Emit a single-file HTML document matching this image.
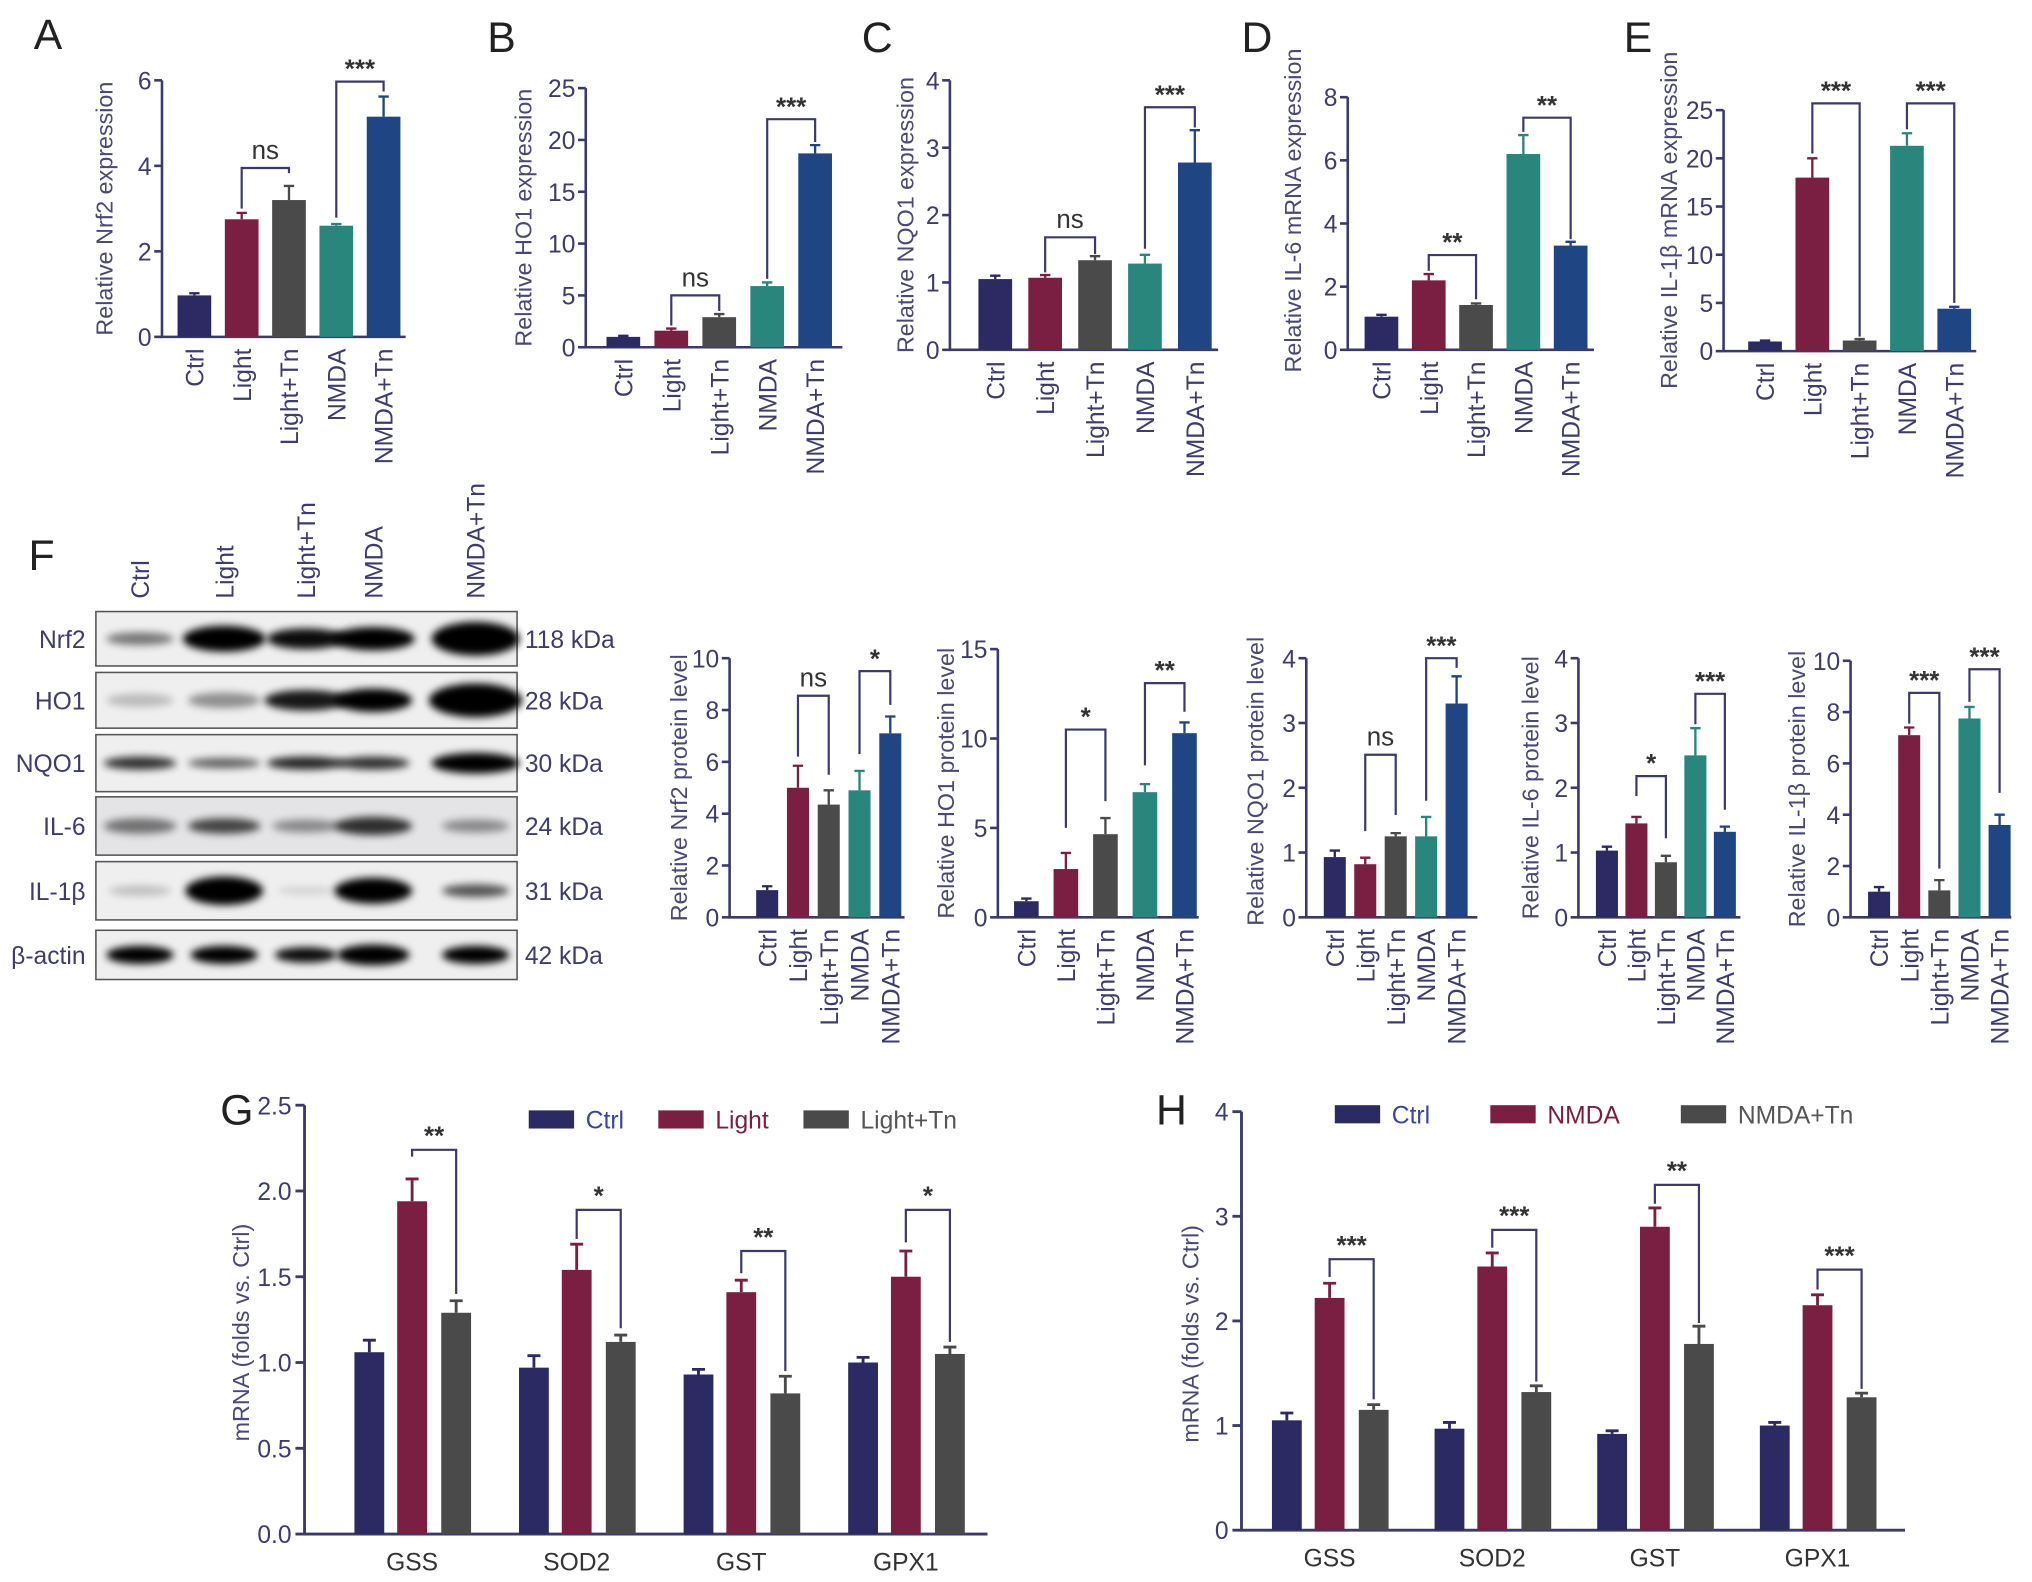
<!DOCTYPE html>
<html><head><meta charset="utf-8"><style>
html,body{margin:0;padding:0;background:#fff}
svg{display:block}
text{font-family:"Liberation Sans","Noto Sans CJK SC",sans-serif}
</style></head>
<body>
<svg id="fig" xmlns="http://www.w3.org/2000/svg" width="2032" height="1582" viewBox="0 0 1568 1221" preserveAspectRatio="none">
<defs><filter id="blur" x="-30%" y="-80%" width="160%" height="260%"><feGaussianBlur stdDeviation="3"/></filter></defs>
</svg>
<script>
// ---- data ----
const groups = ['Ctrl','Light','Light+Tn','NMDA','NMDA+Tn'];
const aVals=[0.97,2.75,3.2,2.6,5.15]; const aErr=[0.05,0.15,0.33,0.04,0.47];
const aBrT=['ns','***']; const aBrY=[3.95,5.97]; const aBrL=[[3.0,3.83],[2.79,5.74]];
const bVals=[1.0,1.6,2.9,5.9,18.7]; const bErr=[0.1,0.2,0.3,0.35,0.8];
const bBrT=['ns','***']; const bBrY=[5.0,22.0]; const bBrL=[[2.1,3.5],[6.6,19.8]];
const cVals=[1.05,1.07,1.33,1.28,2.78]; const cErr=[0.05,0.04,0.06,0.13,0.48];
const cBrT=['ns','***']; const cBrY=[1.67,3.6]; const cBrL=[[1.15,1.42],[1.5,3.3]];
const dVals=[1.05,2.2,1.42,6.2,3.3]; const dErr=[0.06,0.2,0.05,0.6,0.12];
const dBrT=['**','**']; const dBrY=[3.0,7.35]; const dBrL=[[2.5,1.6],[6.9,3.5]];
const eVals=[1.0,18.0,1.1,21.3,4.4]; const eErr=[0.1,2.0,0.15,1.3,0.2];
const eBrT=['***','***']; const eBrY=[25.7,25.7]; const eBrL=[[20.5,1.5],[23.0,5.0]];
const f1Vals=[1.05,5.0,4.35,4.9,7.1]; const f1Err=[0.15,0.85,0.55,0.75,0.65];
const f1BrT=['ns','*']; const f1BrY=[8.55,9.5]; const f1BrL=[[6.2,5.5],[6.3,8.2]];
const f2Vals=[0.9,2.7,4.65,7.0,10.3]; const f2Err=[0.15,0.9,0.9,0.45,0.6];
const f2BrT=['*','**']; const f2BrY=[10.5,13.1]; const f2BrL=[[5.0,6.5],[8.5,11.5]];
const f3Vals=[0.93,0.82,1.25,1.25,3.3]; const f3Err=[0.1,0.1,0.05,0.3,0.42];
const f3BrT=['ns','***']; const f3BrY=[2.51,4.0]; const f3BrL=[[1.33,1.58],[1.8,3.85]];
const f4Vals=[1.03,1.45,0.85,2.5,1.32]; const f4Err=[0.06,0.1,0.1,0.42,0.08];
const f4BrT=['*','***']; const f4BrY=[2.18,3.45]; const f4BrL=[[1.87,1.22],[2.98,1.66]];
const f5Vals=[1.0,7.1,1.05,7.75,3.6]; const f5Err=[0.18,0.3,0.4,0.45,0.4];
const f5BrT=['***','***']; const f5BrY=[8.75,9.67]; const f5BrL=[[7.55,1.9],[8.4,4.85]];
const genes=['GSS','SOD2','GST','GPX1'];
const gCtrl=[1.06,0.97,0.93,1.0]; const gCtrlErr=[0.07,0.07,0.03,0.03];
const gLight=[1.94,1.54,1.41,1.5]; const gLightErr=[0.13,0.15,0.07,0.15];
const gTn=[1.29,1.12,0.82,1.05]; const gTnErr=[0.07,0.04,0.1,0.04];
const gBrT=['**','*','**','*']; const gBrY=[2.24,1.89,1.65,1.89]; const gBrL=[[2.2,1.4],[1.72,1.2],[1.52,0.95],[1.7,1.12]];
const hCtrl=[1.05,0.97,0.92,1.0]; const hCtrlErr=[0.07,0.06,0.03,0.03];
const hNmda=[2.22,2.52,2.9,2.15]; const hNmdaErr=[0.14,0.13,0.18,0.1];
const hTn=[1.15,1.32,1.78,1.27]; const hTnErr=[0.05,0.06,0.17,0.04];
const hBrT=['***','***','**','***']; const hBrY=[2.59,2.87,3.3,2.49]; const hBrL=[[2.42,1.25],[2.7,1.42],[3.12,1.98],[2.3,1.35]];

const colors=['#2c2a62','#7a1e42','#4a4a4a','#28867c','#1f4682'];
const AX='#3b3a6b', TX='#3e3c6e';
const FS=19;
const svg=document.getElementById('fig');
function mk(tag,attrs,parent){const e=document.createElementNS('http://www.w3.org/2000/svg',tag);for(const k in attrs)e.setAttribute(k,attrs[k]);(parent||svg).appendChild(e);return e;}
function txt(s,attrs,parent){const e=mk('text',attrs,parent);e.textContent=s;return e;}

function letter(s,x,y){const t=txt(s,{x:x,y:y,'font-size':33,fill:'#222'});

}

function barChart(o,vals,errs,brT,brY,brL){
  const g=mk('g',{});
  
  
  const y=v=>o.y0-v/o.max*(o.y0-o.yTop);
  const x=i=>o.x0+i*o.sp;
  const ax=mk('path',{d:`M${o.ax} ${o.yTop} V${o.y0} H${o.xEnd}`,stroke:AX,'stroke-width':2,fill:'none'},g);
  
  
  for(let v=0;v<=o.max+1e-9;v+=o.step){
    const tk=mk('line',{x1:o.ax-6,x2:o.ax,y1:y(v),y2:y(v),stroke:AX,'stroke-width':2},g);
    
    
    const tl=txt(o.fmt?v.toFixed(1):String(Math.round(v)),{x:o.ax-8,y:y(v)+7,'text-anchor':'end','font-size':FS,fill:TX},g);
    
    
  }
  const yt=txt(o.title,{transform:`translate(${o.tx},${(o.y0+o.yTop)/2+o.tdy}) rotate(-90)`,'text-anchor':'middle','font-size':18,fill:'#4a4878'},g);
  
  
  vals.forEach((v,i)=>{
    const b=mk('rect',{x:x(i)-o.bw/2,y:y(v),width:o.bw,height:o.y0-y(v),fill:colors[i]},g);
    
    
    const e=mk('path',{d:`M${x(i)} ${y(v)} V${y(v+errs[i])} M${x(i)-4} ${y(v+errs[i])} H${x(i)+4}`,stroke:colors[i],'stroke-width':1.8,fill:'none'},g);
    
    
    const c=txt(groups[i],{transform:`translate(${x(i)+7},${o.y0+9}) rotate(-90)`,'text-anchor':'end','font-size':FS,fill:TX},g);
    
    
  });
  const pairs=[[1,2],[3,4]];
  brT.forEach((t,k)=>{
    const [i,j]=pairs[k];
    const p=mk('path',{d:`M${x(i)} ${y(brL[k][0])} V${y(brY[k])} H${x(j)} V${y(brL[k][1])}`,stroke:AX,'stroke-width':1.7,fill:'none'},g);
    
    
    const s=txt(t,{x:(x(i)+x(j))/2,y:y(brY[k])-(t==='ns'?7:3),'text-anchor':'middle','font-size':20,'font-weight':t==='ns'?'normal':'bold',fill:'#333'},g);
    
    
  });
}

function groupChart(o,series,errs,brT,brY,brL,names){
  const g=mk('g',{});
  
  
  const y=v=>o.y0-v/o.max*(o.y0-o.yTop);
  const gc=i=>o.x0+i*o.sp;
  const off=[-33,0,34];
  const sc=[colors[0],colors[1],colors[2]];
  const ax=mk('path',{d:`M${o.ax} ${o.yTop} V${o.y0} H${o.xEnd}`,stroke:AX,'stroke-width':2.2,fill:'none'},g);
  
  
  for(let v=0;v<=o.max+1e-9;v+=o.step){
    const tk=mk('line',{x1:o.ax-7,x2:o.ax,y1:y(v),y2:y(v),stroke:AX,'stroke-width':2.2},g);
    
    
    const tl=txt(o.fmt?v.toFixed(1):String(Math.round(v)),{x:o.ax-10,y:y(v)+7,'text-anchor':'end','font-size':FS,fill:TX},g);
    
    
  }
  const yt=txt('mRNA (folds vs. Ctrl)',{transform:`translate(${o.tx},${(o.y0+o.yTop)/2+10}) rotate(-90)`,'text-anchor':'middle','font-size':18,fill:'#4a4878'},g);
  
  
  genes.forEach((gn,i)=>{
    series.forEach((s,k)=>{
      const cx=gc(i)+off[k];
      const b=mk('rect',{x:cx-11.5,y:y(s[i]),width:23,height:o.y0-y(s[i]),fill:sc[k]},g);
      
      
      const ev=s[i]+errs[k][i];
      const e=mk('path',{d:`M${cx} ${y(s[i])} V${y(ev)} M${cx-5} ${y(ev)} H${cx+5}`,stroke:sc[k],'stroke-width':2.2,fill:'none'},g);
      
      
    });
    const c=txt(gn,{x:gc(i),y:o.y0+28,'text-anchor':'middle','font-size':FS,fill:'#333'},g);
    
    
    const x1=gc(i)+off[1], x2=gc(i)+off[2];
    const p=mk('path',{d:`M${x1} ${y(brL[i][0])} V${y(brY[i])} H${x2} V${y(brL[i][1])}`,stroke:AX,'stroke-width':1.7,fill:'none'},g);
    
    
    const st=txt(brT[i],{x:(x1+x2)/2,y:y(brY[i])-4,'text-anchor':'middle','font-size':20,'font-weight':'bold',fill:'#333'},g);
    
    
  });
  const lc=['#3a44a0',colors[1],'#555'];
  names.forEach((n,k)=>{
    const lx=o.legX[k];
    const r=mk('rect',{x:lx,y:o.legY,width:35,height:14,fill:sc[k]},g);
    
    
    const t=txt(n,{x:lx+44,y:o.legY+14,'font-size':19,fill:lc[k]},g);
    
    
  });
}

// ---- top row ----
letter('A',26,38); letter('B',376,40); letter('C',665,40); letter('D',958,40); letter('E',1253,40);
barChart({name:'chart-a-nrf2',ax:125,y0:260,yTop:62,max:6,step:2,x0:150,sp:36.5,bw:26,xEnd:313,title:'Relative Nrf2 expression',tx:87,tdy:0},aVals,aErr,aBrT,aBrY,aBrL);
barChart({name:'chart-b-ho1',ax:452,y0:268,yTop:68,max:25,step:5,x0:481,sp:37,bw:26,xEnd:650,title:'Relative HO1 expression',tx:410,tdy:0},bVals,bErr,bBrT,bBrY,bBrL);
barChart({name:'chart-c-nqo1',ax:733,y0:270,yTop:62,max:4,step:1,x0:768,sp:38.5,bw:26,xEnd:940,title:'Relative NQO1 expression',tx:705,tdy:0},cVals,cErr,cBrT,cBrY,cBrL);
barChart({name:'chart-d-il6',ax:1040,y0:270,yTop:75,max:8,step:2,x0:1066,sp:36.5,bw:26,xEnd:1230,title:'Relative IL-6 mRNA expression',tx:1004,tdy:-10},dVals,dErr,dBrT,dBrY,dBrL);
barChart({name:'chart-e-il1b',ax:1330,y0:271,yTop:85,max:25,step:5,x0:1362,sp:36.5,bw:26,xEnd:1525,title:'Relative IL-1\u03b2 mRNA expression',tx:1294,tdy:-8},eVals,eErr,eBrT,eBrY,eBrL);

// ---- western blot ----
letter('F',22,440);
const lanes=[108,173,236,288,367];
const rowNames=['Nrf2','HO1','NQO1','IL-6','IL-1\u03b2','\u03b2-actin'];
const rowKda=['118 kDa','28 kDa','30 kDa','24 kDa','31 kDa','42 kDa'];
const rowTop=[472,519,567,615,665,718];
const rowH=[42,43,44,45,45,38];
const inten=[[0.5,1,0.95,1,1],[0.22,0.4,0.9,1,1],[0.8,0.6,0.85,0.8,1],[0.5,0.7,0.4,0.8,0.4],[0.2,1,0.12,1,0.65],[1,1,0.95,1,1]];
const bandW=[[26,32,30,32,34],[26,28,32,30,36],[28,28,30,28,34],[28,28,26,30,26],[24,30,22,30,26],[26,26,24,28,26]];
const bandH=[[5,10,8,9,13],[5,6,8,9,13],[5,4,5,5,8],[6,6,5,7,5],[4,11,3,10,5],[7,7,6,8,7]];
const blot=mk('g',{});


groups.forEach((gname,i)=>{
  const t=txt(gname,{transform:`translate(${lanes[i]+7},462) rotate(-90)`,'font-size':FS,fill:TX},blot);
  
  
});
rowNames.forEach((rn,r)=>{
  const bg=mk('rect',{x:74,y:rowTop[r],width:325,height:rowH[r],fill:r===3?'#e4e4e6':'#efeff0',stroke:'#555','stroke-width':1.2},blot);
  
  
  const cy=rowTop[r]+rowH[r]/2;
  lanes.forEach((lx,i)=>{
    const e=mk('ellipse',{cx:lx,cy:cy,rx:bandW[r][i],ry:bandH[r][i],fill:'#050505',opacity:inten[r][i],filter:'url(#blur)'},blot);
    
    
  });
  const l=txt(rn,{x:66,y:cy+7,'text-anchor':'end','font-size':FS,fill:TX},blot);
  
  
  const k=txt(rowKda[r],{x:405,y:cy+7,'font-size':FS,fill:TX},blot);
  
  
});

// ---- protein charts ----
barChart({name:'chart-f-nrf2-protein',ax:563,y0:708,yTop:508,max:10,step:2,x0:592,sp:23.75,bw:17,xEnd:698,title:'Relative Nrf2 protein level',tx:530,tdy:0},f1Vals,f1Err,f1BrT,f1BrY,f1BrL);
barChart({name:'chart-f-ho1-protein',ax:770,y0:708,yTop:501,max:15,step:5,x0:792,sp:30.5,bw:19,xEnd:925,title:'Relative HO1 protein level',tx:736,tdy:0},f2Vals,f2Err,f2BrT,f2BrY,f2BrL);
barChart({name:'chart-f-nqo1-protein',ax:1008,y0:708,yTop:508,max:4,step:1,x0:1030,sp:23.5,bw:17,xEnd:1140,title:'Relative NQO1 protein level',tx:975,tdy:-5},f3Vals,f3Err,f3BrT,f3BrY,f3BrL);
barChart({name:'chart-f-il6-protein',ax:1218,y0:708,yTop:508,max:4,step:1,x0:1240,sp:22.75,bw:17,xEnd:1343,title:'Relative IL-6 protein level',tx:1187,tdy:0},f4Vals,f4Err,f4BrT,f4BrY,f4BrL);
barChart({name:'chart-f-il1b-protein',ax:1428,y0:708,yTop:510,max:10,step:2,x0:1450,sp:23.25,bw:17,xEnd:1552,title:'Relative IL-1\u03b2 protein level',tx:1393,tdy:0},f5Vals,f5Err,f5BrT,f5BrY,f5BrL);

// ---- G / H ----
letter('G',170,868); letter('H',892,868);
groupChart({name:'chart-g',ax:235,y0:1184,yTop:853,max:2.5,step:0.5,fmt:true,x0:318,sp:127,xEnd:762,tx:192,legX:[408,508,620],legY:857},[gCtrl,gLight,gTn],[gCtrlErr,gLightErr,gTnErr],gBrT,gBrY,gBrL,['Ctrl','Light','Light+Tn']);
groupChart({name:'chart-h',ax:958,y0:1181,yTop:858,max:4,step:1,fmt:false,x0:1026,sp:125.5,xEnd:1470,tx:925,legX:[1030,1150,1297],legY:853},[hCtrl,hNmda,hTn],[hCtrlErr,hNmdaErr,hTnErr],hBrT,hBrY,hBrL,['Ctrl','NMDA','NMDA+Tn']);
</script>
</body></html>
